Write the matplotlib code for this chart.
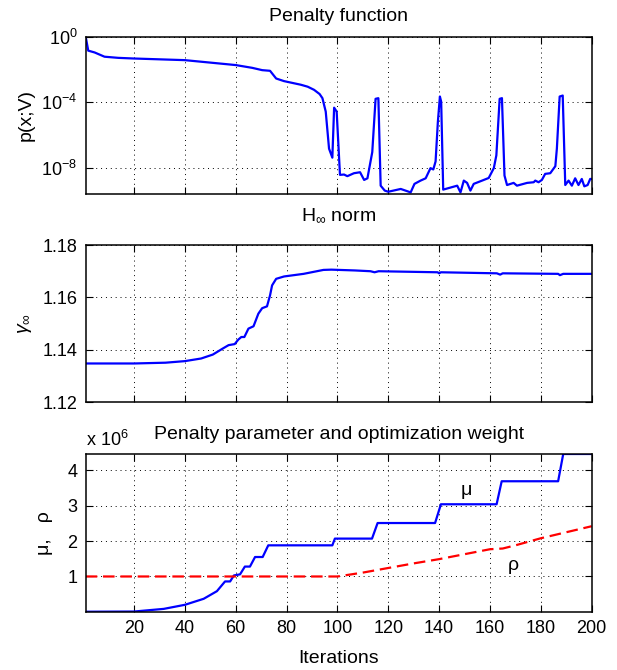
import numpy as np
import matplotlib
matplotlib.use("Agg")
import matplotlib.pyplot as plt

plt.rcParams['font.family'] = ['Liberation Sans', 'DejaVu Sans']
plt.rcParams['mathtext.fontset'] = 'custom'
plt.rcParams['mathtext.rm'] = 'Liberation Sans'
plt.rcParams['mathtext.it'] = 'Liberation Sans:italic'
plt.rcParams['font.size'] = 13

# penalty function (log10 values)
pen_it = [1, 2, 4.5, 8.4, 13.8, 20, 40, 60, 66.5, 70.4, 73.5, 75.9, 79, 85.6, 88.3, 90.8, 93,
          94.1, 95.4, 96.7, 98, 98.7, 99.7, 101, 102.6, 103.9, 106.5, 108.9, 110.5, 111.8,
          113.7, 115, 116.1, 117, 118.6, 120, 124.9, 128.8, 130.3, 132.7, 134.7, 136.6,
          137.7, 138.6, 139.5, 140.3, 140.8, 141.6, 147.1, 148.4, 149.7, 151, 152.3, 153.6,
          156.9, 159.5, 161.5, 162.5, 163.8, 164.7, 165.7, 166.7, 169.3, 170.6, 174.6,
          177.2, 177.8, 179.1, 180.4, 181.7, 183.7, 185.7, 186.3, 187.4, 188.6, 189.6,
          190.9, 192.2, 193.5, 194.8, 196.1, 197.1, 198.4, 199.4, 200]
pen_log = [0.0, -0.85, -0.96, -1.22, -1.29, -1.33, -1.43, -1.73, -1.9, -2.04, -2.08, -2.55,
           -2.71, -2.93, -3.05, -3.24, -3.5, -3.75, -4.57, -6.83, -7.38, -4.33, -4.57, -8.43,
           -8.41, -8.51, -8.33, -8.27, -8.74, -8.64, -7.04, -3.79, -3.75, -9.09, -9.39,
           -9.46, -9.29, -9.5, -8.98, -8.78, -8.64, -8.02, -8.1, -7.61, -5.19, -3.65, -3.96,
           -9.33, -9.09, -9.5, -8.78, -8.92, -9.39, -8.98, -8.78, -8.62, -8.02, -7.24, -3.79,
           -3.75, -8.47, -9.05, -8.92, -9.09, -8.92, -8.88, -8.78, -8.88, -8.74, -8.37,
           -8.33, -7.9, -6.83, -3.65, -3.59, -9.05, -8.78, -9.09, -8.64, -9.05, -8.68,
           -9.13, -9.05, -8.68, -8.68]

# H-infinity norm
hinf_it = [1, 20, 32.4, 40, 46.4, 51, 54.9, 57.2, 59.6, 61, 62.2, 63.4, 65, 67, 68.9, 70.4,
           72.3, 73.5, 74.3, 75.9, 79, 86.7, 94.5, 97.6, 106.8, 113, 114.6, 116.2, 139.4,
           140, 140.7, 162.7, 164, 165, 186.8, 187.5, 188.8, 200]
hinf_val = [1.1348, 1.1348, 1.1351, 1.1357, 1.1367, 1.1382, 1.1405, 1.1418, 1.1422, 1.1439,
            1.1449, 1.1449, 1.1481, 1.149, 1.1538, 1.1559, 1.1566, 1.1608, 1.1646, 1.1671,
            1.168, 1.169, 1.1705, 1.1706, 1.1703, 1.17, 1.1696, 1.17, 1.1696, 1.1692,
            1.1696, 1.1692, 1.1687, 1.1692, 1.169, 1.1685, 1.169, 1.169]

# penalty parameter mu and weight rho (x 1e6)
mu_it = [1, 20, 31.7, 40, 47.4, 52.6, 55.8, 57.8, 59.3, 61.7, 63.6, 65.6, 67.6, 70.6, 72.8,
         98, 99, 113.6, 115.8, 138.4, 140.7, 162.6, 164.6, 186.8, 188.8, 200]
mu_val = [0.005, 0.01, 0.085, 0.2, 0.37, 0.585, 0.86, 0.86, 1.03, 1.06, 1.28, 1.28, 1.55,
          1.55, 1.88, 1.88, 2.07, 2.07, 2.51, 2.51, 3.04, 3.04, 3.69, 3.69, 4.46, 4.46]
rho_it = [1, 100, 110, 120, 130, 140, 150, 160, 165, 170, 180, 190, 200]
rho_val = [1.0, 1.0, 1.11, 1.24, 1.37, 1.49, 1.63, 1.77, 1.79, 1.88, 2.08, 2.25, 2.42]

xticks = [20, 40, 60, 80, 100, 120, 140, 160, 180, 200]

fig = plt.figure(figsize=(6.17, 6.70), dpi=100)
left, width = 0.1389, 0.8201
ax1 = fig.add_axes([left, 0.7104, width, 0.2348])
ax2 = fig.add_axes([left, 0.3996, width, 0.2347])
ax3 = fig.add_axes([left, 0.0870, width, 0.2354])

blue = '#0000ff'
red = '#ff0000'
lab = 14


def style(ax):
    ax.set_xlim(1, 200)
    ax.set_xticks(xticks)
    ax.grid(True, linestyle=(0, (1, 4)), color='black', linewidth=0.7)
    ax.tick_params(direction='in', length=5, width=0.8, top=True, right=True, pad=6)
    for s in ax.spines.values():
        s.set_linewidth(1.1)


ax1.semilogy(pen_it, 10.0 ** np.array(pen_log), color=blue, lw=1.6)
style(ax1)
ax1.set_ylim(10 ** -9.6, 1)
ax1.set_yticks([1e-8, 1e-4, 1e0])
ax1.set_yticklabels([r'10$^{-8}$', r'10$^{-4}$', r'10$^{0}$'])
ax1.minorticks_off()
ax1.set_xticklabels([])
ax1.set_title('Penalty function', fontsize=lab, pad=11)
ax1.set_ylabel('p(x;V)', fontsize=lab, labelpad=5)

ax2.plot(hinf_it, hinf_val, color=blue, lw=1.6)
style(ax2)
ax2.set_ylim(1.12, 1.18)
ax2.set_yticks([1.12, 1.14, 1.16, 1.18])
ax2.set_xticklabels([])
ax2.set_title(r'H$_{\infty}$ norm', fontsize=lab, pad=18)
ax2.set_ylabel(r'$\gamma_{\infty}$', fontsize=14, labelpad=6)

ax3.plot(mu_it, np.array(mu_val) * 1e6, color=blue, lw=1.6)
ax3.plot(rho_it, np.array(rho_val) * 1e6, color=red, lw=1.6, linestyle=(0, (5.2, 2.6)))
style(ax3)
ax3.set_ylim(0.005e6, 4.46e6)
ax3.set_yticks([1e6, 2e6, 3e6, 4e6])
ax3.set_yticklabels(['1', '2', '3', '4'])
ax3.set_title('Penalty parameter and optimization weight', fontsize=lab, pad=11)
ax3.text(0.0, 1.025, r'x 10$^6$', transform=ax3.transAxes, ha='left', va='bottom')
ax3.set_ylabel('μ,   ρ', fontsize=lab, labelpad=10)
ax3.set_xlabel('Iterations', fontsize=lab, labelpad=9)
ax3.text(150.8, 3.43e6, 'μ', ha='center', va='center', fontsize=lab)
ax3.text(169, 1.31e6, 'ρ', ha='center', va='center', fontsize=lab)

fig.savefig('out.png', dpi=100)
